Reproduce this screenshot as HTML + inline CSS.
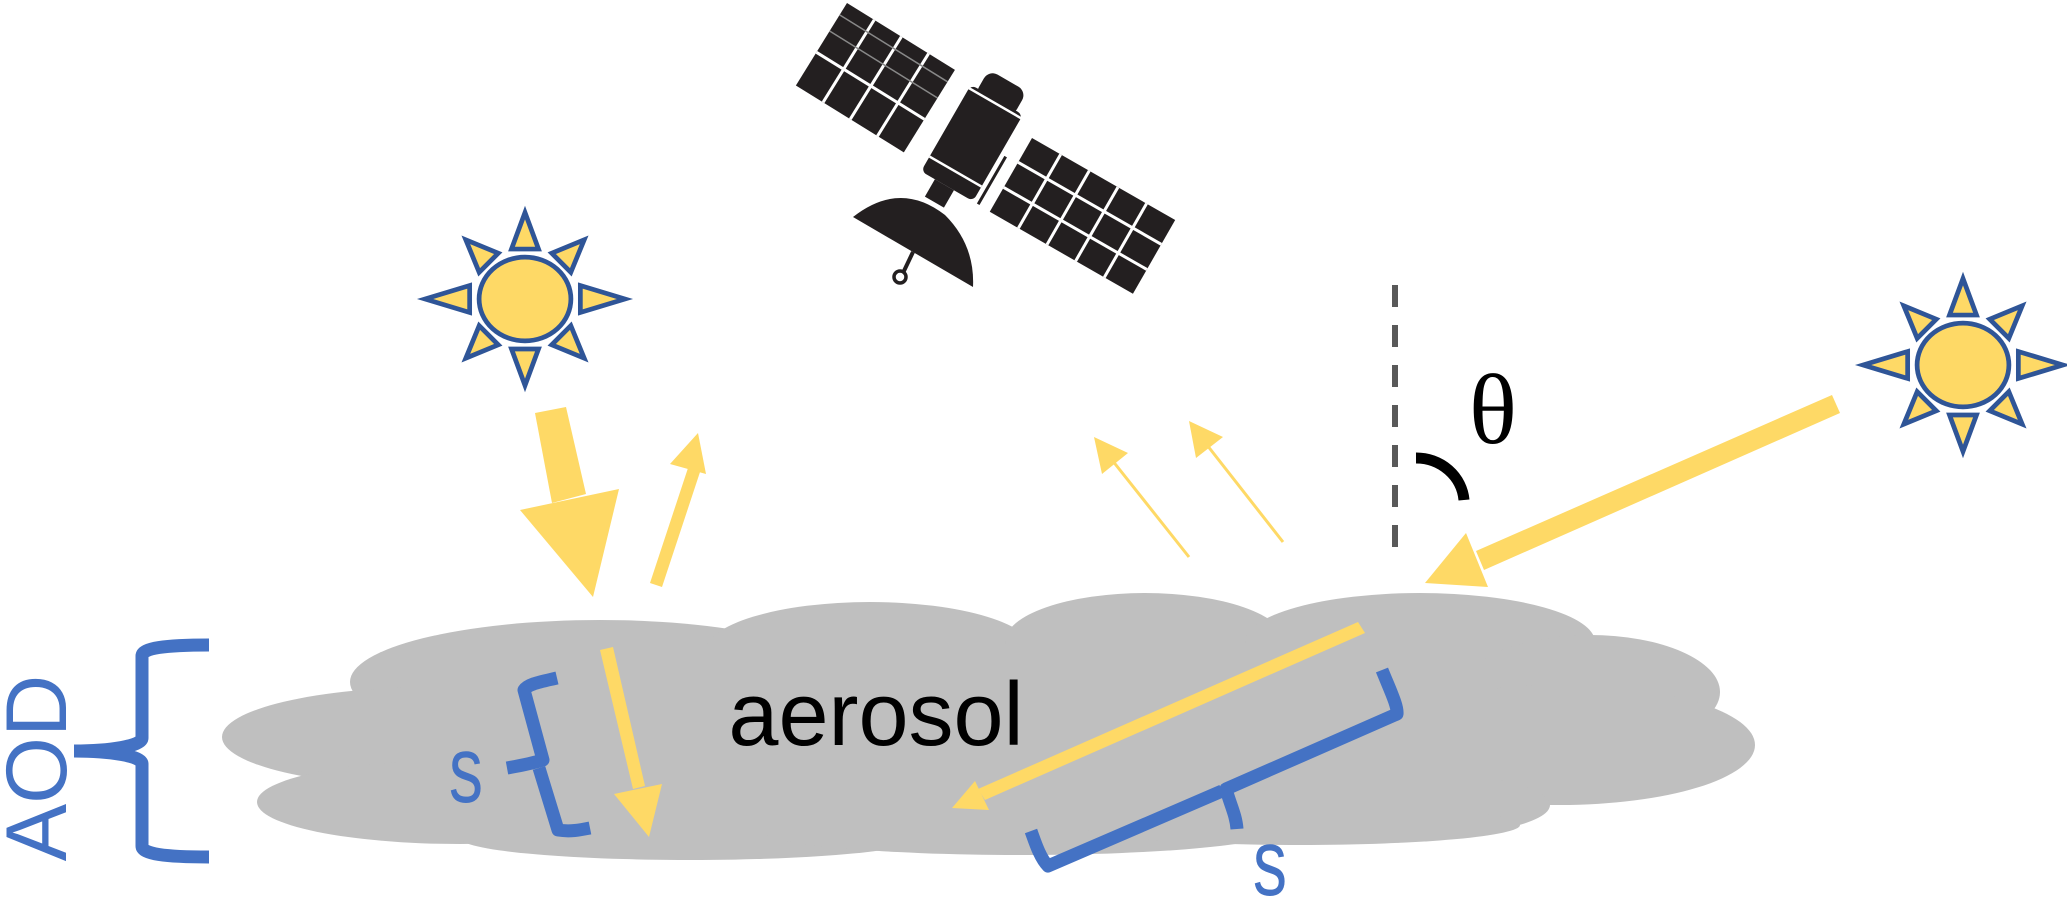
<!DOCTYPE html>
<html><head><meta charset="utf-8"><style>
html,body{margin:0;padding:0;background:#fff;overflow:hidden}
svg{display:block}
</style></head><body>
<svg width="2067" height="899" viewBox="0 0 2067 899" xmlns="http://www.w3.org/2000/svg">
<defs>
<g id="sun">
  <ellipse cx="0" cy="0" rx="34" ry="31" fill="#fed966" stroke="#2f5597" stroke-width="3.5"/>
  <g fill="#fed966" stroke="#2f5597" stroke-width="3.5">
    <polygon points="0,-64 -10,-37 10,-37"/>
    <polygon points="0,64 -10,37 10,37"/>
    <polygon points="-74,0 -41,-10 -41,10"/>
    <polygon points="74,0 41,-10 41,10"/>
    <g transform="rotate(45)"><polygon points="0,-62 -10,-38 10,-38"/></g>
    <g transform="rotate(-45)"><polygon points="0,-62 -10,-38 10,-38"/></g>
    <g transform="rotate(135)"><polygon points="0,-62 -10,-38 10,-38"/></g>
    <g transform="rotate(-135)"><polygon points="0,-62 -10,-38 10,-38"/></g>
  </g>
</g>
</defs>

<!-- cloud -->
<g fill="#bfbfbf">
  <ellipse cx="600" cy="682" rx="250" ry="62"/>
  <ellipse cx="870" cy="652" rx="165" ry="50"/>
  <ellipse cx="1145" cy="642" rx="140" ry="49"/>
  <ellipse cx="1420" cy="642" rx="175" ry="49"/>
  <ellipse cx="1590" cy="692" rx="130" ry="57"/>
  <ellipse cx="1560" cy="745" rx="195" ry="60"/>
  <ellipse cx="1400" cy="805" rx="150" ry="33"/>
  <ellipse cx="435" cy="737" rx="213" ry="50"/>
  <ellipse cx="460" cy="802" rx="203" ry="42"/>
  <ellipse cx="690" cy="838" rx="230" ry="22"/>
  <ellipse cx="1020" cy="830" rx="260" ry="25"/>
  <ellipse cx="1300" cy="825" rx="220" ry="20"/>
  <rect x="420" y="650" width="1060" height="180"/>
</g>

<!-- suns -->
<use href="#sun" transform="translate(525,299) scale(1.35)"/>
<use href="#sun" transform="translate(1963,365) scale(1.35)"/>

<!-- satellite -->
<g fill="#231f20">
  <g transform="translate(847,3) rotate(31.8)">
    <rect width="127" height="97"/>
    <g stroke="#fff" stroke-width="3">
      <line x1="32" y1="0" x2="32" y2="97"/><line x1="64" y1="0" x2="64" y2="97"/><line x1="96" y1="0" x2="96" y2="97"/>
      <line x1="0" y1="58" x2="127" y2="58"/>
    </g>
    <g stroke="#888" stroke-width="1.5">
      <line x1="0" y1="14" x2="127" y2="14"/><line x1="0" y1="33" x2="127" y2="33"/>
    </g>
  </g>
  <g transform="translate(1032,138) rotate(29.8)">
    <rect width="165" height="85"/>
    <g stroke="#fff" stroke-width="3">
      <line x1="33" y1="0" x2="33" y2="85"/><line x1="66" y1="0" x2="66" y2="85"/><line x1="99" y1="0" x2="99" y2="85"/><line x1="132" y1="0" x2="132" y2="85"/>
      <line x1="0" y1="28" x2="165" y2="28"/><line x1="0" y1="57" x2="165" y2="57"/>
    </g>
  </g>
  <g transform="translate(972,143) rotate(30)">
    <rect x="-30" y="-50" width="60" height="100" rx="6"/>
    <rect x="-22" y="-72" width="44" height="30" rx="10"/>
    <line x1="-30" y1="-46" x2="30" y2="-46" stroke="#fff" stroke-width="2.5"/>
    <line x1="-30" y1="33" x2="30" y2="33" stroke="#fff" stroke-width="2.5"/>
    <rect x="-14" y="50" width="22" height="20"/>
    <line x1="36" y1="-5" x2="36" y2="50" stroke="#231f20" stroke-width="3"/>
  </g>
  <path d="M853,217 Q900,180 945,215 Q975,245 973,287 Z"/>
  <line x1="913" y1="252" x2="903" y2="273" stroke="#231f20" stroke-width="4"/>
  <circle cx="900" cy="277" r="6" fill="#fff" stroke="#231f20" stroke-width="3.5"/>
</g>

<!-- yellow arrows -->
<g fill="#fed966">
  <polygon points="535,413 566,407 586,494 552,503"/>
  <polygon points="520,510 619,489 593,597"/>
  <polygon points="1832,395 1840,413 1484,570 1476,551"/>
  <polygon points="1425,583 1466,533 1488,587"/>
  <polygon points="600,650 613,647 645,786 633,789"/>
  <polygon points="614,794 662,784 649,837"/>
  <polygon points="1358,622 1365,633 985,800 978,789"/>
  <polygon points="952,808 975,781 989,810"/>
  <polygon points="650,583 662,587 702,466 690,462"/>
  <polygon points="698,433 670,464 706,474"/>
  <polygon points="1094,437 1102,474 1128,453"/>
  <polygon points="1189,421 1196,458 1223,437"/>
</g>
<g stroke="#fed966" fill="none" stroke-width="3">
  <line x1="1189" y1="557" x2="1112" y2="460"/>
  <line x1="1283" y1="542" x2="1207" y2="445"/>
</g>

<!-- dashed + theta -->
<line x1="1395" y1="285" x2="1395" y2="547" stroke="#595959" stroke-width="6" stroke-dasharray="22,18"/>
<path d="M1416,458 A48 46 0 0 1 1464,500" fill="none" stroke="#000" stroke-width="11"/>
<text x="1493" y="443" font-family="Liberation Serif, serif" font-size="100" text-anchor="middle">θ</text>

<!-- brackets -->
<g fill="none" stroke="#4472c4" stroke-width="13" stroke-linejoin="round">
  <path d="M209,645 C165,645 142,648 142,656 V738 C142,746 110,751 74,751"/>
  <path d="M209,857 C165,857 142,854 142,846 V764 C142,756 110,751 74,751"/>
  <path d="M557,678 C540,682 528,684 524,690 L543,760 C530,764 518,766 507,768"/>
  <path d="M539,768 L558,830 C570,832 580,830 590,828"/>
  <path d="M1382,670 C1390,690 1398,706 1397,714 L1226,789 C1230,804 1236,815 1237,829"/>
  <path d="M1222,791 L1048,866 C1040,858 1035,842 1031,831"/>
</g>

<!-- text -->
<text x="876" y="745" font-family="Liberation Sans, sans-serif" font-size="90" text-anchor="middle" fill="#000">aerosol</text>
<text transform="translate(466,802) scale(0.72,1)" font-family="Liberation Sans, sans-serif" font-size="95" fill="#4472c4" text-anchor="middle">s</text>
<text transform="translate(1270,895) scale(0.72,1)" font-family="Liberation Sans, sans-serif" font-size="95" fill="#4472c4" text-anchor="middle">s</text>
<text transform="translate(66,768) rotate(-90)" font-family="Liberation Sans, sans-serif" font-size="86" fill="#4472c4" text-anchor="middle">AOD</text>
</svg>
</body></html>
